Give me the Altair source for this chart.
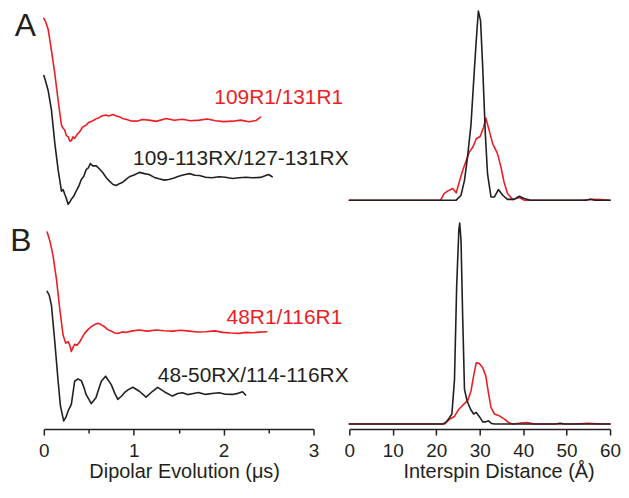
import altair as alt
import pandas as pd

# ---------------- data ----------------
# Panel A, dipolar evolution (time in microseconds, amplitude in arbitrary units, traces stacked)
a_r1_t = [0.0, 0.02, 0.048, 0.085, 0.122, 0.159, 0.196, 0.215, 0.233, 0.25,
          0.27, 0.29, 0.306, 0.325, 0.343, 0.37, 0.40, 0.43, 0.47, 0.50,
          0.546, 0.58, 0.62, 0.65, 0.69, 0.72, 0.77, 0.80, 0.84, 0.88,
          0.915, 0.97, 1.03, 1.10, 1.17, 1.25, 1.36, 1.45, 1.54, 1.63,
          1.73, 1.82, 1.91, 2.00, 2.10, 2.19, 2.28, 2.36, 2.41]
a_r1_v = [95.6, 94.0, 90.4, 80.1, 69.2, 56.4, 44.5, 43.0, 42.2, 39.5,
          39.0, 36.8, 37.1, 38.9, 38.2, 40.0, 41.4, 43.5, 44.5, 45.8,
          46.6, 47.5, 48.2, 49.0, 49.3, 48.9, 49.6, 49.0, 48.5, 47.6,
          47.3, 46.5, 46.4, 47.2, 46.9, 46.3, 47.7, 46.8, 47.3, 46.6,
          46.9, 47.4, 46.6, 46.2, 46.4, 46.9, 46.1, 46.7, 48.3]
a_rx_t = [0.0, 0.02, 0.048, 0.085, 0.122, 0.159, 0.196, 0.215, 0.233, 0.25,
          0.27, 0.29, 0.306, 0.33, 0.36, 0.39, 0.417, 0.445, 0.47, 0.495,
          0.517, 0.545, 0.58, 0.62, 0.657, 0.695, 0.73, 0.77, 0.805, 0.84,
          0.878, 0.915, 0.952, 1.01, 1.063, 1.12, 1.17, 1.23, 1.28, 1.34,
          1.39, 1.45, 1.50, 1.56, 1.62, 1.68, 1.73, 1.80, 1.87, 1.95,
          2.02, 2.10, 2.17, 2.25, 2.32, 2.41, 2.50, 2.54]
a_rx_v = [68.2, 65.5, 61.1, 51.7, 35.9, 23.2, 12.9, 13.6, 11.4, 9.5,
          6.6, 7.8, 9.0, 10.3, 12.9, 15.4, 18.5, 20.0, 23.2, 24.0,
          26.1, 25.0, 25.1, 23.5, 21.7, 19.3, 17.7, 16.1, 15.6, 16.5,
          17.2, 18.5, 19.8, 20.8, 21.9, 21.3, 20.9, 19.5, 18.8, 18.2,
          18.5, 19.2, 20.0, 20.8, 21.3, 20.5, 20.4, 19.6, 19.3, 19.8,
          19.6, 19.0, 19.3, 19.6, 19.3, 19.5, 20.9, 19.8]

# Panel B, dipolar evolution
b_r1_t = [0.037, 0.07, 0.103, 0.14, 0.177, 0.214, 0.244, 0.27, 0.288, 0.306,
          0.325, 0.343, 0.37, 0.40, 0.43, 0.454, 0.49, 0.528, 0.56, 0.60,
          0.64, 0.675, 0.71, 0.75, 0.79, 0.823, 0.87, 0.916, 0.99, 1.063,
          1.15, 1.25, 1.34, 1.43, 1.52, 1.62, 1.71, 1.80, 1.90, 1.99,
          2.08, 2.17, 2.25, 2.32, 2.40, 2.48]
b_r1_v = [96.2, 91.5, 84.8, 73.8, 59.6, 46.9, 43.0, 43.8, 42.2, 39.0,
          41.0, 42.5, 42.0, 43.7, 46.0, 47.7, 49.5, 50.9, 51.8, 52.5,
          51.8, 50.9, 49.5, 48.8, 47.9, 47.7, 48.4, 48.2, 48.9, 49.3,
          48.8, 49.3, 49.0, 48.8, 49.2, 48.8, 48.4, 48.5, 48.9, 48.2,
          47.9, 47.7, 48.2, 48.0, 48.3, 48.5]
b_rx_t = [0.037, 0.06, 0.085, 0.122, 0.159, 0.185, 0.221, 0.245, 0.27, 0.306,
          0.343, 0.38, 0.417, 0.445, 0.47, 0.528, 0.58, 0.61, 0.64, 0.687,
          0.75, 0.79, 0.823, 0.86, 0.897, 0.94, 0.99, 1.063, 1.137, 1.21,
          1.266, 1.34, 1.43, 1.49, 1.54, 1.60, 1.65, 1.72, 1.80, 1.87,
          1.95, 2.02, 2.10, 2.16, 2.21, 2.245]
b_rx_v = [67.8, 66.0, 61.1, 43.7, 24.8, 12.9, 5.8, 7.5, 10.6, 13.7,
          24.8, 25.9, 25.1, 22.0, 18.5, 14.1, 16.9, 21.0, 24.8, 27.2,
          23.2, 19.0, 16.1, 17.5, 19.3, 20.8, 21.9, 20.0, 17.2, 20.0,
          21.9, 19.8, 17.7, 18.9, 19.3, 18.4, 18.8, 19.4, 18.5, 18.9,
          19.3, 18.6, 18.5, 19.0, 19.8, 18.2]

# Panel A, distance distributions (distance in Angstrom, probability normalised)
a_dist_r1_r = [0, 21.0, 21.8, 22.7, 23.8, 24.6, 25.3, 26.1, 26.9, 27.6,
               28.4, 29.2, 30.1, 30.9, 31.4, 32.2, 33.0, 34.1, 34.9, 35.6,
               36.4, 37.6, 39.1, 40.2, 53.5, 56.0, 58.0, 60]
a_dist_r1_p = [0, 0, 0.035, 0.049, 0.062, 0.039, 0.096, 0.158, 0.21, 0.254,
               0.28, 0.325, 0.337, 0.386, 0.435, 0.368, 0.298, 0.246, 0.175, 0.096,
               0.035, 0.004, 0.014, 0, 0, 0.005, 0.003, 0]
a_dist_rx_r = [0, 24.6, 25.7, 26.5, 27.2, 28.0, 28.8, 29.4, 29.7, 30.2,
               30.7, 31.3, 31.8, 32.6, 33.4, 34.3, 35.3, 36.4, 37.9, 39.1,
               40.2, 41.7, 54.5, 55.5, 56.5, 60]
a_dist_rx_p = [0, 0, 0.026, 0.105, 0.228, 0.40, 0.70, 0.91, 1.0, 0.95,
               0.70, 0.35, 0.14, 0.017, 0.017, 0.056, 0.026, 0.004, 0.004, 0.021,
               0.009, 0, 0, 0.005, 0, 0]

# Panel B, distance distributions
b_dist_r1_r = [0, 21.9, 23.1, 24.2, 25.1, 26.1, 27.2, 28.0, 28.6, 29.2,
               29.9, 30.7, 31.4, 32.0, 32.6, 33.4, 34.5, 35.7, 36.6, 37.6,
               39.5, 41.0, 42.5, 52.0, 55.0, 58.0, 60]
b_dist_r1_p = [0, 0, 0.025, 0.038, 0.071, 0.094, 0.115, 0.165, 0.24, 0.305,
               0.302, 0.28, 0.24, 0.157, 0.083, 0.05, 0.041, 0.025, 0.008, 0,
               0.005, 0.008, 0, 0, 0.004, 0, 0]
b_dist_rx_r = [0, 21.5, 22.3, 23.1, 23.6, 24.2, 24.7, 25.2, 25.4, 25.7,
               26.1, 26.5, 27.1, 27.9, 28.6, 29.2, 29.9, 30.7, 31.4, 32.0,
               32.7, 33.5, 47.5, 48.5, 49.5, 60]
b_dist_rx_p = [0, 0, 0.011, 0.033, 0.05, 0.22, 0.685, 0.965, 1.0, 0.916,
               0.52, 0.173, 0.115, 0.074, 0.05, 0.058, 0.038, 0.011, 0.011, 0.016,
               0.003, 0, 0, 0.004, 0, 0]

# trace labels (text, anchor in data units of the left panels)
a_label_text = ["109R1/131R1", "109-113RX/127-131RX"]
a_label_t = [3.33, 3.39]
a_label_v = [54.4, 25.6]
b_label_text = ["48R1/116R1", "48-50RX/114-116RX"]
b_label_t = [3.32, 3.39]
b_label_v = [52.1, 24.6]

time_ticks = [0, 0.5, 1, 1.5, 2, 2.5, 3]
dist_ticks = [0, 10, 20, 30, 40, 50, 60]

# ---------------- styling ----------------
RED = "#ee1d23"
BLK = "#231f20"
FONT = "Liberation Sans"
W_LEFT, W_RIGHT, H = 271, 262, 210


def axis_common(**kw):
    return alt.Axis(grid=False, domainColor=BLK, tickColor=BLK, domainWidth=1.5,
                    tickWidth=1.5, labelFontSize=19, labelFont=FONT, labelColor=BLK,
                    titleFont=FONT, titleFontSize=20, titleFontWeight="normal",
                    titleColor=BLK, labelPadding=7, titlePadding=1,
                    labelFlush=False, labelOverlap=False, **kw)


def line(df, x, y, color):
    return alt.Chart(df).mark_line(color=color, strokeWidth=1.6, strokeJoin="round",
                                   strokeCap="round").encode(x=x, y=y)


def left_panel(r_t, r_v, x_t, x_v, lab_text, lab_t, lab_v, ydomain, letter, letter_dy,
               show_axis):
    if show_axis:
        ax = axis_common(values=time_ticks,
                         labelExpr="datum.value % 1 === 0 ? format(datum.value, 'd') : ''",
                         tickSize={"condition": {"test": "datum.value % 1 === 0", "value": 6},
                                   "value": 4},
                         title="Dipolar Evolution (μs)", titleX=141, titleAlign="center")
    else:
        ax = None
    x = alt.X("t:Q", scale=alt.Scale(domain=[0, 3], nice=False, zero=False), axis=ax)
    y = alt.Y("v:Q", scale=alt.Scale(domain=ydomain, nice=False, zero=False), axis=None)
    red = line(pd.DataFrame({"t": r_t, "v": r_v}), x, y, RED)
    blk = line(pd.DataFrame({"t": x_t, "v": x_v}), x, y, BLK)
    labels = alt.Chart(pd.DataFrame({"t": lab_t, "v": lab_v, "text": lab_text,
                                     "c": [RED, BLK]})).mark_text(
        align="right", baseline="alphabetic", fontSize=21, font=FONT).encode(
        x=x, y=y, text="text:N", color=alt.Color("c:N", scale=None))
    return alt.layer(red, blk, labels).properties(
        width=W_LEFT, height=H,
        title=alt.TitleParams(letter, orient="left", anchor="end", angle=0,
                              align="left", baseline="top", fontSize=32,
                              font=FONT, fontWeight="normal", color=BLK,
                              offset=7, dy=letter_dy))


def right_panel(r_r, r_p, x_r, x_p, ydomain, show_axis):
    if show_axis:
        ax = axis_common(values=dist_ticks, tickSize=6, format="d",
                         title="Interspin Distance (Å)", titleX=150, titleAlign="center")
    else:
        ax = None
    x = alt.X("r:Q", scale=alt.Scale(domain=[0, 60], nice=False, zero=False), axis=ax)
    y = alt.Y("p:Q", scale=alt.Scale(domain=ydomain, nice=False, zero=False), axis=None)
    red = line(pd.DataFrame({"r": r_r, "p": r_p}), x, y, RED)
    blk = line(pd.DataFrame({"r": x_r, "p": x_p}), x, y, BLK)
    return alt.layer(red, blk).properties(width=W_RIGHT, height=H)


a_left = left_panel(a_r1_t, a_r1_v, a_rx_t, a_rx_v, a_label_text, a_label_t, a_label_v,
                    [0, 100], "A", 2, False)
a_right = right_panel(a_dist_r1_r, a_dist_r1_p, a_dist_rx_r, a_dist_rx_p,
                      [-0.095, 1.0105], False)
b_left = left_panel(b_r1_t, b_r1_v, b_rx_t, b_rx_v, b_label_text, b_label_t, b_label_v,
                    [1.9, 101.9], "B", 6, True)
b_right = right_panel(b_dist_r1_r, b_dist_r1_p, b_dist_rx_r, b_dist_rx_p,
                      [-0.025, 1.015], True)

chart = alt.concat(a_left, a_right, b_left, b_right, columns=2,
                   spacing={"row": 2, "column": 36}, bounds="flush").resolve_scale(
    x="independent", y="independent").properties(
    background="white",
    padding={"left": 2, "top": 0, "right": 0, "bottom": 0}).configure_view(
    stroke=None)

chart.save("out.html", embed_options={"renderer": "svg", "actions": False})
